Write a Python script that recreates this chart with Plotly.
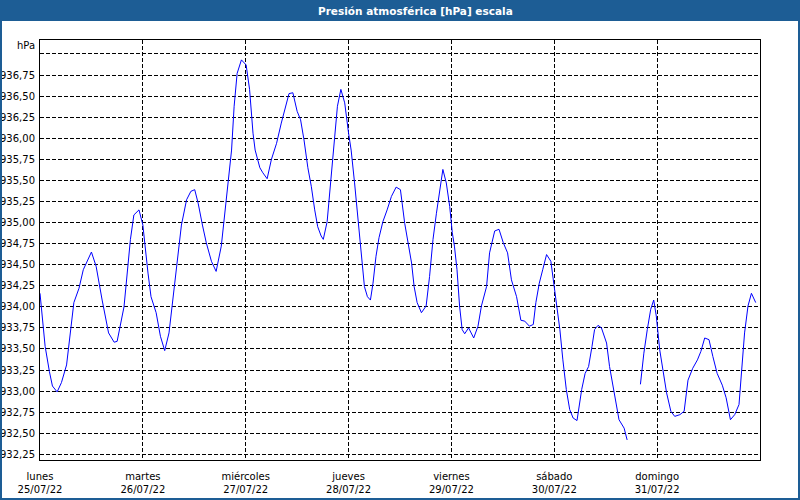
import plotly.graph_objects as go

# Hours since 25/07/22 00:00 and pressure (hPa); None marks a gap in the record
hours = [0.0, 1.2, 2.2, 2.9, 4.0, 5.0, 6.2, 7.2, 7.9, 9.1, 10.1, 12.0, 13.1, 14.5, 16.0, 17.3, 18.0,
         19.6, 20.5, 21.1, 21.9, 23.1, 24.0, 24.4, 25.2, 25.9, 27.1, 28.1, 29.1, 30.1, 31.1, 32.1,
         33.0, 34.2, 35.2, 36.1, 36.9, 37.9, 38.8, 40.0, 41.1, 42.3, 42.9, 43.9, 44.7, 45.3, 46.0,
         47.0, 48.1, 48.9, 49.7, 50.2, 51.3, 52.0, 53.0, 54.0, 55.2, 56.3, 57.3, 58.1, 59.0, 60.0,
         60.8, 61.6, 62.5, 63.3, 64.1, 64.8, 65.6, 66.1, 67.0, 67.6, 68.2, 68.7, 69.4, 70.2, 71.1,
         72.0, 72.6, 73.4, 74.2, 75.1, 75.7, 76.4, 77.1, 77.7, 78.4, 79.1, 80.0, 81.0, 82.0, 83.1,
         84.1, 85.1, 85.9, 86.7, 87.3, 88.0, 89.0, 90.1, 90.9, 91.7, 92.5, 93.2, 94.0, 94.8, 95.6,
         96.2, 96.7, 97.3, 97.9, 98.5, 99.1, 100.0, 101.2, 102.2, 103.0, 104.2, 104.9, 106.1, 107.1,
         108.1, 109.1, 110.0, 111.2, 112.2, 113.1, 114.2, 115.1, 115.7, 116.5, 117.3, 118.2, 119.2,
         119.8, 120.5, 121.3, 122.0, 122.8, 123.6, 124.4, 125.3, 126.4, 127.2, 128.0, 128.8, 129.4,
         130.2, 131.0, 132.2, 132.9, 133.7, 134.4, 135.1, 136.3, 137.0, 138.5, 140.1, 140.9, 141.7,
         142.5, 143.2, 143.8, 144.6, 145.4, 146.2, 147.2, 148.1, 149.3, 150.3, 151.2, 152.3, 153.4,
         154.2, 155.1, 156.1, 157.0, 158.0, 159.2, 160.1, 161.1, 162.1, 163.1, 163.7, 164.4, 165.2,
         166.0, 167.0]
pressure = [934.16, 933.53, 933.23, 933.06, 932.99, 933.10, 933.31, 933.73, 934.05, 934.22, 934.44,
            934.65, 934.48, 934.08, 933.69, 933.58, 933.59, 934.00, 934.48, 934.80, 935.09, 935.15,
            934.97, 934.76, 934.40, 934.12, 933.93, 933.65, 933.48, 933.69, 934.12, 934.56, 934.97,
            935.27, 935.37, 935.39, 935.23, 934.97, 934.76, 934.54, 934.42, 934.72, 935.00, 935.43,
            935.86, 936.38, 936.77, 936.93, 936.87, 936.58, 936.06, 935.86, 935.65, 935.59, 935.52,
            935.75, 935.94, 936.18, 936.38, 936.53, 936.54, 936.32, 936.22, 935.98, 935.65, 935.43,
            935.15, 934.95, 934.84, 934.80, 935.01, 935.35, 935.67, 936.02, 936.38, 936.58, 936.42,
            936.06, 935.86, 935.47, 935.03, 934.56, 934.24, 934.12, 934.08, 934.28, 934.60, 934.82,
            935.01, 935.15, 935.31, 935.42, 935.39, 934.99, 934.76, 934.52, 934.24, 934.05, 933.93,
            934.01, 934.36, 934.80, 935.11, 935.35, 935.63, 935.47, 935.19, 934.88, 934.72, 934.44,
            934.01, 933.73, 933.68, 933.75, 933.63, 933.77, 934.01, 934.24, 934.64, 934.90, 934.92,
            934.76, 934.64, 934.32, 934.12, 933.84, 933.83, 933.77, 933.79, 934.05, 934.28, 934.44,
            934.62, 934.54, 934.32, 934.01, 933.73, 933.37, 933.02, 932.78, 932.68, 932.65, 933.02,
            933.21, 933.29, 933.53, 933.73, 933.78, 933.75, 933.57, 933.29, 933.06, 932.86, 932.66,
            932.56, 932.42, None, 933.08, 933.45, 933.73, 933.97, 934.08, 933.89, 933.49, 933.21,
            932.98, 932.76, 932.70, 932.72, 932.76, 933.13, 933.27, 933.37, 933.47, 933.63, 933.61,
            933.41, 933.21, 933.07, 932.92, 932.66, 932.72, 932.84, 933.21, 933.69, 934.01, 934.16,
            934.05]

day_hours = [0, 24, 48, 72, 96, 120, 144]
day_names = ["lunes", "martes", "miércoles", "jueves", "viernes", "sábado", "domingo"]
day_dates = ["25/07/22", "26/07/22", "27/07/22", "28/07/22", "29/07/22", "30/07/22", "31/07/22"]

y_ticks = [932.25, 932.5, 932.75, 933.0, 933.25, 933.5, 933.75, 934.0, 934.25, 934.5, 934.75,
           935.0, 935.25, 935.5, 935.75, 936.0, 936.25, 936.5, 936.75, 937.0]
y_labels = [("%.2f" % v).replace(".", ",") for v in y_ticks[:-1]] + [""]

title_text = "Presión atmosférica [hPa] escala"
unit_text = "hPa"

BAR = "#1d5d95"
FONT = "DejaVu Sans"
FS = 10

fig = go.Figure()
fig.add_trace(go.Scatter(x=hours, y=pressure, mode="lines",
                         line=dict(color="#0000ff", width=1), connectgaps=False,
                         hoverinfo="skip", showlegend=False))

W, H = 800, 500
L, R, T, B = 40, 40, 40, 40
pw, ph = W - L - R, H - T - B

def px_x(p):
    return (p - L) / pw

def px_y(p):
    return 1 - (p - T) / ph

fig.update_layout(
    width=W, height=H,
    margin=dict(l=L, r=R, t=T, b=B, pad=0, autoexpand=False),
    paper_bgcolor="white", plot_bgcolor="white",
    font=dict(family=FONT, size=FS, color="black"),
    showlegend=False,
    shapes=[
        dict(type="rect", xref="paper", yref="paper",
             x0=px_x(0), x1=px_x(W), y0=px_y(21), y1=px_y(0),
             fillcolor=BAR, line=dict(width=0), layer="below"),
        dict(type="rect", xref="paper", yref="paper",
             x0=px_x(1), x1=px_x(W - 1), y0=px_y(H - 1), y1=px_y(1),
             fillcolor="rgba(0,0,0,0)", line=dict(color=BAR, width=2), layer="above"),
    ],
    annotations=[
        dict(text="<b>" + title_text + "</b>", xref="paper", yref="paper",
             x=px_x(415), y=px_y(10.5), xanchor="center", yanchor="middle",
             showarrow=False, font=dict(family=FONT, size=10.5, color="white")),
        dict(text=unit_text, xref="paper", yref="paper",
             x=px_x(37), y=px_y(46), xanchor="right", yanchor="middle",
             showarrow=False, font=dict(family=FONT, size=FS, color="black")),
    ],
)

fig.update_xaxes(
    range=[0, 168], tickmode="array", tickvals=day_hours,
    ticktext=[n + "<br>" + d for n, d in zip(day_names, day_dates)],
    showgrid=True, gridcolor="black", gridwidth=1, griddash="4px,2px",
    showline=True, linecolor="black", linewidth=1, mirror=True,
    ticks="", zeroline=False, tickangle=0, automargin=False, ticklabelstandoff=7,
)
fig.update_yaxes(
    range=[932.182, 937.166], tickmode="array", tickvals=y_ticks, ticktext=y_labels,
    showgrid=True, gridcolor="black", gridwidth=1, griddash="4px,2px",
    showline=True, linecolor="black", linewidth=1, mirror=True,
    ticks="", ticklabelstandoff=2, zeroline=False, automargin=False,
)

fig.write_html("out.html")
